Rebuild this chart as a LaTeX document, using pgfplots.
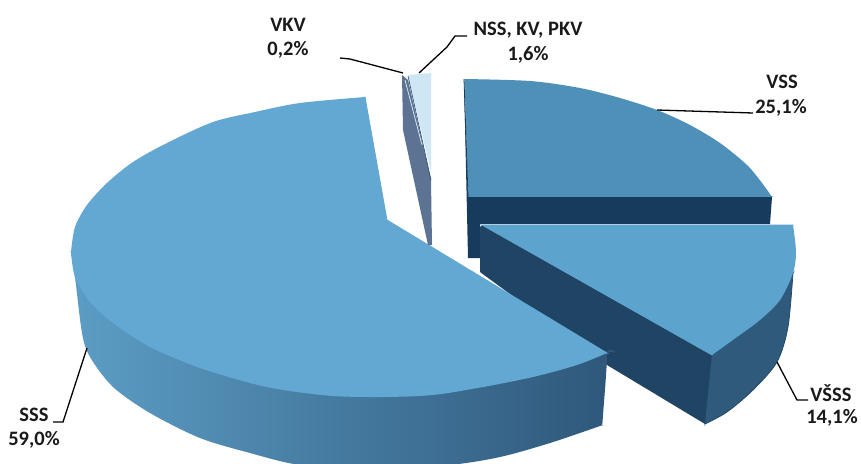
\documentclass[border=0pt]{standalone}
\usepackage{pgfplots}
\pgfplotsset{compat=1.18}
\usepackage{fontspec}
\setmainfont{Carlito}
\definecolor{ssstop}{HTML}{62A8D3}
\definecolor{vsstop}{HTML}{4F90B9}
\definecolor{vsssidecol}{HTML}{173B5C}
\definecolor{vstop}{HTML}{5CA3CD}
\definecolor{vsface}{HTML}{1F4464}
\definecolor{vscurve}{HTML}{2F5A7C}
\definecolor{sideL}{HTML}{5C9DC5}
\definecolor{sideM}{HTML}{4A82A8}
\definecolor{sideR}{HTML}{2D5578}
\definecolor{nsslight}{HTML}{CFE6F5}
\definecolor{vkvgray}{HTML}{5D7393}
\definecolor{txt}{HTML}{1A1A1A}
\newcommand{\lab}[3]{\node[font=\fontsize{20.5}{22}\selectfont\bfseries,text=txt,anchor=center,inner sep=0pt] at (axis cs:#1,#2) {#3};}
\begin{document}
\begin{tikzpicture}
\begin{axis}[
  scale only axis, width=861pt, height=463pt,
  xmin=0, xmax=861, ymin=0, ymax=463, y dir=reverse,
  axis lines=none, clip=true]
% page frame
\addplot[fill=white,draw=none] coordinates {(0,0)(861,0)(861,463)(0,463)} -- cycle;
% VSS side
\addplot[fill=vsssidecol,draw=none] coordinates {(464,79)(468,197)(772,197)(770,224)(480,224)(480,258)(468,258)} -- cycle;
% VSS top
\addplot[smooth,fill=vsstop,draw=none] coordinates {(464,79)(530,81)(580,88)(620,98)(657,110)(690,125)(720,143)(747,165)(762,183)(772,197)};
\addplot[fill=vsstop,draw=vsstop,line width=0.8pt] coordinates {(465,79.5)(771.5,196.5)(468.5,196.5)} -- cycle;
\addplot[draw=vsssidecol,line width=0.8pt] coordinates {(464,79)(468,197)};
% VSS-hat curved side
\addplot[smooth,fill=vscurve,draw=none] coordinates {(793,273)(788,327)(777,362)(753,390)(727,412)(705,424)};
\addplot[fill=vscurve,draw=vscurve,line width=0.8pt] coordinates {(793,273)(705,424)(712,355)} -- cycle;
% cut face
\addplot[fill=vsface,draw=none] coordinates {(482,225)(480,227)(480,272)(607,365)(705,424)(712,355)} -- cycle;
\addplot[smooth,draw=vsface,line width=0.7pt] coordinates {(793,273)(788,327)(777,362)(753,390)(727,412)(705,424)};
% VSS-hat top
\addplot[smooth,fill=vstop,draw=none] coordinates {(793,225)(796,252)(793,273)(780,300)(760,320)(737,337)(712,355)};
\addplot[fill=vstop,draw=vstop,line width=0.8pt] coordinates {(482,225)(793,225)(712,355)} -- cycle;
% SSS side
\addplot[smooth,left color=sideL,middle color=sideM,right color=sideR,draw=none] coordinates {(71,252)(75,277)(82,333)(90,357)(113,387)(150,413)(200,438)(250,453)(300,465)(375,470)(450,465)(500,457)(550,443)(600,426)(602,425)(603,415)(607,353)(600,350)(400,300)(200,290)(80,255)};
% SSS top
\addplot[smooth,fill=ssstop,draw=none] coordinates {(365,97)(300,103)(255,112)(213,122)(167,143)(133,162)(107,183)(87,205)(75,227)(71,252)};
\addplot[smooth,fill=ssstop,draw=none] coordinates {(71,252)(75,277)(90,302)(113,323)(150,347)(200,368)(250,383)(283,390)(333,396)(383,397)(433,395)(483,387)(533,377)(577,365)(607,353)};
\addplot[fill=ssstop,draw=ssstop,line width=0.8pt] coordinates {(365,97)(71,252)(607,353)(387,220)} -- cycle;
% small slices
\addplot[fill=nsslight,draw=none] coordinates {(408,75)(431,73)(431,172)} -- cycle;
\addplot[fill=vkvgray,draw=none] coordinates {(402,75)(403,130)(428,245)(432,245)(431,180)(408,80)} -- cycle;
\addplot[draw=nsslight,line width=0.8pt] coordinates {(405,80)(422,145)};
\addplot[draw=vsface,line width=0.6pt] coordinates {(408,76)(431,180)};
% leaders
\addplot[black,line width=1.3pt] coordinates {(340,58)(350,59)(403,73)};
\addplot[black,line width=1.3pt] coordinates {(467,36)(455,36)(447,47)(419,73)};
\addplot[black,line width=1.3pt] coordinates {(657,110)(753,113)};
\addplot[black,line width=1.3pt] coordinates {(777,362)(797,400)(808,400)};
\addplot[black,line width=1.3pt] coordinates {(87,348)(63,422)(53,422)};
% labels
\lab{288}{25}{VKV}
\lab{288}{50}{0,2\%}
\lab{528}{30}{NSS, KV, PKV}
\lab{528}{55}{1,6\%}
\lab{782}{82}{VSS}
\lab{781}{108}{25,1\%}
\lab{831}{393}{VŠSS}
\lab{832}{418}{14,1\%}
\lab{34}{415}{SSS}
\lab{34}{440}{59,0\%}
\end{axis}
\end{tikzpicture}
\end{document}
